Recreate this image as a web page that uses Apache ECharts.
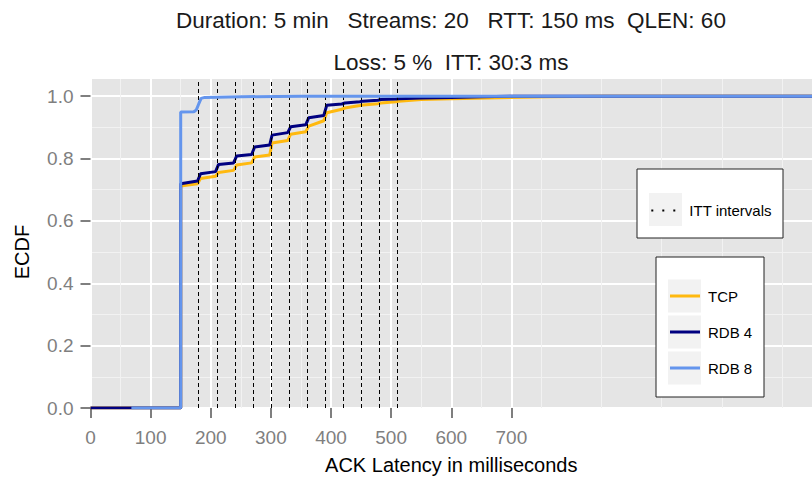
<!DOCTYPE html>
<html>
<head>
<meta charset="utf-8">
<script src="https://cdn.jsdelivr.net/npm/echarts@6/dist/echarts.min.js"></script>
<style>html,body{margin:0;padding:0;background:#fff;}#c{width:812px;height:477px;}</style>
</head>
<body>
<div id="c"></div>
<script>
const titleLine1 = 'Duration: 5 min   Streams: 20   RTT: 150 ms  QLEN: 60';
const titleLine2 = 'Loss: 5 %  ITT: 30:3 ms';
const xAxisTitle = 'ACK Latency in milliseconds';
const yAxisTitle = 'ECDF';
const xTicks = [0, 100, 200, 300, 400, 500, 600, 700];
const yTicks = [0, 0.2, 0.4, 0.6, 0.8, 1.0];
const ittLines = [180, 210, 240, 270, 300, 330, 360, 390, 420, 450, 480, 510];

const tcpX = [0,150,150,178,183,208,213,238,243,268,273,298,302,328,333,358,363,388,393,418,423,448,453,478,483,508,513,550,600,680,760,850,1200];
const tcpY = [0,0,0.712,0.719,0.736,0.743,0.755,0.762,0.779,0.786,0.805,0.811,0.850,0.858,0.878,0.886,0.904,0.921,0.947,0.958,0.962,0.970,0.972,0.976,0.978,0.982,0.984,0.989,0.992,0.995,0.998,1.0,1.0];

const rdb4X = [0,150,150,178,183,208,213,238,243,268,273,298,302,328,333,358,363,388,393,418,423,448,453,478,483,508,513,550,600,650,700,1200];
const rdb4Y = [0,0,0.719,0.728,0.751,0.758,0.781,0.786,0.808,0.813,0.837,0.843,0.875,0.883,0.902,0.908,0.931,0.938,0.971,0.975,0.978,0.982,0.984,0.987,0.989,0.991,0.992,0.994,0.996,0.998,1.0,1.0];

const rdb8X = [68,150,150,172,176,180,184,190,250,350,1200];
const rdb8Y = [0,0,0.949,0.950,0.956,0.975,0.993,0.996,0.998,1.0,1.0];

const seriesNames = ['TCP', 'RDB 4', 'RDB 8'];
const seriesColors = ['#FFB90F', '#000080', '#6495ED'];

const FONT = '"Liberation Sans", Arial, Helvetica, sans-serif';
const pairs = (xs, ys) => xs.map((x, i) => [x, ys[i]]);
const chart = echarts.init(document.getElementById('c'), null, {renderer: 'svg'});

const lineSeries = [[tcpX, tcpY], [rdb4X, rdb4Y], [rdb8X, rdb8Y]].map((d, i) => ({
  name: seriesNames[i],
  type: 'line',
  data: pairs(d[0], d[1]),
  showSymbol: false,
  symbol: 'none',
  color: seriesColors[i],
  lineStyle: {width: 3, color: seriesColors[i]},
  z: 3 + i,
  animation: false
}));

const legendBase = {
  orient: 'horizontal', padding: 0, selectedMode: false, z: 20,
  textStyle: {fontSize: 15, lineHeight: 16, color: '#000', fontFamily: FONT}
};

const option = {
  animation: false,
  backgroundColor: '#fff',
  grid: {left: 90.5, right: 0, top: 79, bottom: 69, show: true, backgroundColor: '#E5E5E5', borderWidth: 0,
         containLabel: false, outerBoundsMode: 'none'},
  xAxis: {
    type: 'value', min: 0, max: 1200, interval: 100,
    name: xAxisTitle, nameLocation: 'middle', nameGap: 47,
    nameTextStyle: {fontSize: 20, color: '#000', fontFamily: FONT},
    axisLine: {show: false},
    axisTick: {show: true, length: 10, customValues: xTicks, lineStyle: {color: '#7F7F7F', width: 2}},
    axisLabel: {customValues: xTicks, margin: 20, fontSize: 19, color: '#7F7F7F', fontFamily: FONT},
    splitLine: {show: true, lineStyle: {width: 2, color: ['#fff','#fff','#fff','#fff','#fff','#fff','#fff','#fff','#F2F2F2','#F2F2F2','#F2F2F2','#F2F2F2','#F2F2F2']}},
    minorTick: {show: false, splitNumber: 2},
    minorSplitLine: {show: true, lineStyle: {width: 1, color: '#F2F2F2'}}
  },
  yAxis: {
    type: 'value', min: 0, max: 1.055, interval: 0.2,
    axisLine: {show: false},
    axisTick: {show: true, length: 10, customValues: yTicks, lineStyle: {color: '#7F7F7F', width: 2}},
    axisLabel: {customValues: yTicks, margin: 17, fontSize: 19, color: '#7F7F7F', fontFamily: FONT, formatter: v => v.toFixed(1)},
    splitLine: {show: true, lineStyle: {width: 2, color: ['#fff','#fff','#fff','#fff','#fff','#fff','rgba(0,0,0,0)']}},
    minorTick: {show: false, splitNumber: 2},
    minorSplitLine: {show: true, lineStyle: {width: 1, color: '#F2F2F2'}}
  },
  legend: [
    Object.assign({}, legendBase, {data: ['ITT intervals'], left: 651.3, top: 202.5, itemWidth: 24, itemHeight: 2,
      icon: 'path://M0,0h2v2h-2zM11,0h2v2h-2zM22,0h2v2h-2z',
      textStyle: Object.assign({}, legendBase.textStyle, {padding: [0, 0, 0, 9]})}),
    Object.assign({}, legendBase, {data: ['TCP'], left: 670, top: 288, itemWidth: 30, itemHeight: 3, icon: 'rect',
      textStyle: Object.assign({}, legendBase.textStyle, {padding: [0, 0, 0, 3]})}),
    Object.assign({}, legendBase, {data: ['RDB 4'], left: 670, top: 324, itemWidth: 30, itemHeight: 3, icon: 'rect',
      textStyle: Object.assign({}, legendBase.textStyle, {padding: [0, 0, 0, 3]})}),
    Object.assign({}, legendBase, {data: ['RDB 8'], left: 670, top: 360, itemWidth: 30, itemHeight: 3, icon: 'rect',
      textStyle: Object.assign({}, legendBase.textStyle, {padding: [0, 0, 0, 3]})})
  ],
  graphic: [
    {type: 'text', x: 451, y: 20, z: 10, style: {text: titleLine1, align: 'center', verticalAlign: 'middle', font: '22.5px ' + FONT, fill: '#1a1a1a'}},
    {type: 'text', x: 451, y: 62, z: 10, style: {text: titleLine2, align: 'center', verticalAlign: 'middle', font: '22.5px ' + FONT, fill: '#1a1a1a'}},
    {type: 'text', x: 22, y: 252, rotation: Math.PI / 2, z: 10, style: {text: yAxisTitle, align: 'center', verticalAlign: 'middle', font: '20px ' + FONT, fill: '#000'}},
    {type: 'rect', z: 10, shape: {x: 637, y: 169, width: 146, height: 69}, style: {fill: '#fff', stroke: '#222', lineWidth: 1}},
    {type: 'rect', z: 11, shape: {x: 649, y: 193, width: 33, height: 33}, style: {fill: '#F2F2F2'}},
    {type: 'rect', z: 10, shape: {x: 656, y: 257, width: 108, height: 140}, style: {fill: '#fff', stroke: '#222', lineWidth: 1}},
    {type: 'rect', z: 11, shape: {x: 668, y: 279.5, width: 33, height: 33}, style: {fill: '#F2F2F2'}},
    {type: 'rect', z: 11, shape: {x: 668, y: 315.5, width: 33, height: 33}, style: {fill: '#F2F2F2'}},
    {type: 'rect', z: 11, shape: {x: 668, y: 351.5, width: 33, height: 33}, style: {fill: '#F2F2F2'}}
  ],
  series: [
    {
      name: 'ITT intervals', type: 'line', data: [], color: '#000', z: 2,
      markLine: {
        silent: true, symbol: ['none', 'none'], animation: false,
        label: {show: false},
        lineStyle: {color: '#000', width: 1, type: [4, 3]},
        data: ittLines.map(v => ({xAxis: v}))
      }
    }
  ].concat(lineSeries)
};
chart.setOption(option);
</script>
</body>
</html>
